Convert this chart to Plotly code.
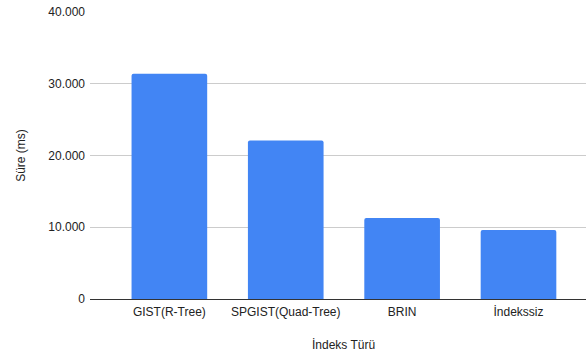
import plotly.graph_objects as go

categories = ["GIST(R-Tree)", "SPGIST(Quad-Tree)", "BRIN", "İndekssiz"]
values = [31400, 22100, 11300, 9600]
y_ticks = [0, 10000, 20000, 30000, 40000]

fig = go.Figure(
    go.Bar(
        x=categories,
        y=values,
        marker=dict(color="#4285F4", line=dict(width=0)),
        width=0.65,
    )
)

font_family = "Arial, 'Liberation Sans', sans-serif"

fig.update_layout(
    width=587,
    height=358,
    margin=dict(l=90, r=1, t=12, b=59),
    paper_bgcolor="white",
    plot_bgcolor="white",
    separators=",.",
    showlegend=False,
    barcornerradius=2,
    font=dict(family=font_family, size=12, color="#222222"),
    xaxis=dict(
        type="category",
        range=[-0.682, 3.58],
        automargin=False,
        showgrid=False,
        showline=False,
        zeroline=False,
        ticks="",
        ticklabelstandoff=4,
        tickfont=dict(size=12, color="#222222"),
    ),
    yaxis=dict(
        range=[0, 40000],
        automargin=False,
        tickvals=y_ticks,
        tickformat=",d",
        showgrid=True,
        gridcolor="#CCCCCC",
        gridwidth=1,
        zeroline=True,
        zerolinecolor="#333333",
        zerolinewidth=1,
        showline=False,
        ticks="",
        ticklabelstandoff=4,
        tickfont=dict(size=12, color="#222222"),
        title=dict(text="Süre (ms)", font=dict(size=12, color="#222222"), standoff=20),
    ),
    annotations=[
        dict(
            text="İndeks Türü",
            xref="paper", yref="paper",
            x=0.512, y=-0.160,
            xanchor="center", yanchor="middle",
            showarrow=False,
            font=dict(size=12, color="#222222"),
        )
    ],
)

fig.write_html(
    "out.html",
    config={"displayModeBar": False},
    post_script="document.body.style.margin='0';document.body.style.overflow='hidden';",
)
